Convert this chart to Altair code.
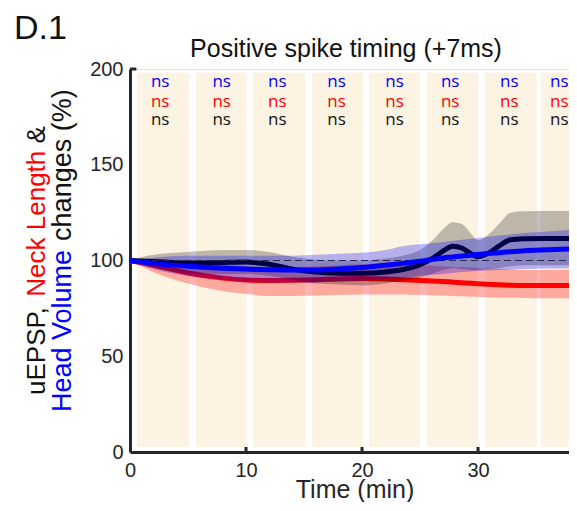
import altair as alt
import pandas as pd

# ---------------- data ----------------
t = [0, 2, 5, 8, 10, 12, 14, 16, 18, 20, 22, 23.5, 25, 26, 27, 27.8, 28.6, 29.4,
     30, 30.8, 31.8, 32.8, 34, 36, 38.5]

uepsp = [100, 99.5, 98.7, 99, 99.2, 98, 95.5, 94, 93.4, 93.3, 94, 95.3, 97.8, 100.8,
         105, 107.5, 106.5, 103.5, 102, 103.5, 107.5, 110.8, 111.3, 111.5, 111.5]
uepsp_hi = [100, 103, 104.5, 105.5, 105.5, 104.5, 102, 100.5, 100, 100, 101, 102.5,
            105.5, 110, 116.5, 120, 119, 114, 110.5, 113, 119, 125, 125.7, 125.8, 125.8]
uepsp_lo = [100, 96.5, 93.5, 93, 93, 92, 90, 88, 87.5, 87, 88, 89.5, 91, 93, 95, 96,
            95.5, 95, 95, 95.5, 96, 97, 97.5, 97.5, 97.5]

neck = [100, 97.5, 93.5, 90.8, 89.8, 89.5, 89.7, 90, 90.4, 90.6, 90.4, 90, 89.6, 89.3,
        89, 88.7, 88.4, 88.1, 87.9, 87.6, 87.3, 87.1, 87, 87, 87]
neck_hi = [100, 100.5, 99.5, 98, 97, 96.5, 96.5, 97, 97.5, 98, 98, 97.8, 97.5, 97.3,
           97, 96.8, 96.6, 96.3, 96, 95.8, 95.5, 95.3, 95.1, 95, 95]
neck_lo = [100, 94, 88, 84, 82.5, 81.5, 81.5, 81.7, 82, 82.3, 82.3, 82.2, 82, 81.9,
           81.7, 81.5, 81.3, 81.1, 81, 80.8, 80.6, 80.5, 80.4, 80.3, 80.3]

head = [100, 98.5, 97, 96, 95.5, 95.2, 95, 95, 95.5, 96.3, 97.5, 98.5, 99.6, 100.5,
        101.3, 101.8, 102.3, 102.8, 103.1, 103.6, 104.1, 104.6, 105.1, 105.6, 106.2]
head_hi = [100, 101.5, 102.5, 102.5, 102.5, 102.5, 102.5, 103, 103.5, 104, 105.5, 107.5,
           108.5, 109, 109.7, 110.2, 110.8, 111.3, 111.8, 112.3, 113, 113.6, 114.3, 115.2, 116.2]
head_lo = [100, 95.5, 92, 90, 89, 88.5, 88.5, 88.5, 89, 89.5, 90.5, 91, 92, 92.5, 93,
           93.5, 94, 94.3, 94.5, 94.8, 95, 95.2, 95.5, 95.8, 96]

band_start = [0.6, 5.7, 10.6, 15.7, 20.6, 25.6, 30.6, 35.4]
band_end = [5.1, 10.05, 15.1, 20.1, 25.0, 30.0, 35.05, 38.6]

ns_x = [2.6, 7.9, 12.7, 17.8, 22.8, 27.6, 32.7, 37.0]
ns_series = ["head", "neck", "uepsp"]
ns_level = [193.4, 182.9, 173.4]

x_ticks = [0, 10, 20, 30]
y_ticks = [0, 50, 100, 150, 200]

# ---------------- build tables ----------------
df = pd.DataFrame(dict(t=t, uepsp=uepsp, uepsp_hi=uepsp_hi, uepsp_lo=uepsp_lo,
                       neck=neck, neck_hi=neck_hi, neck_lo=neck_lo,
                       head=head, head_hi=head_hi, head_lo=head_lo))
bands = pd.DataFrame(dict(start=band_start, end=band_end))
ns_rows = []
for xv in ns_x:
    for s, lv in zip(ns_series, ns_level):
        ns_rows.append(dict(x=xv, y=lv, s=s, label="ns"))
ns_df = pd.DataFrame(ns_rows)

XMAX = 37.84
AX = "#262626"
FONT = "Liberation Sans"

xscale = alt.Scale(domain=[0, XMAX], nice=False, zero=False)
yscale = alt.Scale(domain=[0, 200], nice=False)

xaxis = alt.Axis(values=x_ticks, title=None, grid=False, ticks=False, labelFlush=False,
                 labelPadding=8)
yaxis = alt.Axis(values=y_ticks, title=None, grid=False, ticks=False, labelPadding=7)

band_layer = alt.Chart(bands).mark_rect(color="#fdf3e2").encode(
    x=alt.X("start:Q", scale=xscale, axis=xaxis),
    x2="end:Q",
    y=alt.Y(datum=198, scale=yscale, axis=yaxis),
    y2=alt.datum(2.6),
)

base = alt.Chart(df)
X = alt.X("t:Q", scale=xscale, axis=xaxis)


def area(lo, hi, color, op):
    return base.mark_area(color=color, opacity=op, interpolate="monotone").encode(
        x=X, y=alt.Y(f"{lo}:Q", scale=yscale, axis=yaxis), y2=f"{hi}:Q")


def line(col, color):
    return base.mark_line(color=color, strokeWidth=5, interpolate="monotone").encode(
        x=X, y=alt.Y(f"{col}:Q", scale=yscale, axis=yaxis))


red_area = area("neck_lo", "neck_hi", "#ff0000", 0.3)
red_line = line("neck", "#ff0000")
gray_area = area("uepsp_lo", "uepsp_hi", "#000000", 0.25)
black_line = line("uepsp", "#000000")
blue_area = area("head_lo", "head_hi", "#0000ff", 0.28)
blue_line = line("head", "#0000ff")

one = pd.DataFrame({"a": [0]})
dash = alt.Chart(one).mark_rule(strokeDash=[7, 4], strokeWidth=1.2, color="#2a2a4a").encode(
    x=alt.X(datum=0, scale=xscale, axis=xaxis), x2=alt.datum(38.6),
    y=alt.Y(datum=100, scale=yscale, axis=yaxis))

xt = alt.Chart(pd.DataFrame({"v": x_ticks[1:]})).mark_rule(color=AX, strokeWidth=3).encode(
    x=alt.X("v:Q", scale=xscale, axis=xaxis),
    y=alt.Y(datum=0, scale=yscale, axis=yaxis), y2=alt.datum(2.6))
yt = alt.Chart(one).mark_rule(color=AX, strokeWidth=3).encode(
    x=alt.X(datum=0, scale=xscale, axis=xaxis), x2=alt.datum(0.55),
    y=alt.Y(datum=200, scale=yscale, axis=yaxis))

ns_layer = alt.Chart(ns_df).mark_text(font="Open Sans", fontSize=17, baseline="middle",
                                      align="center").encode(
    x=alt.X("x:Q", scale=xscale, axis=xaxis),
    y=alt.Y("y:Q", scale=yscale, axis=yaxis),
    text="label:N",
    color=alt.Color("s:N", scale=alt.Scale(domain=ns_series,
                                           range=["#0000ff", "#ff0000", "#111111"]),
                    legend=None),
)


def label(txt, px, py, size, color="#111111", angle=None, align="left"):
    kw = dict(font=FONT, fontSize=size, color=color, align=align, baseline="alphabetic")
    if angle is not None:
        kw["angle"] = angle
    return alt.Chart(one).mark_text(**kw).encode(
        x=alt.value(px), y=alt.value(py), text=alt.value(txt))


texts = [
    label("D.1", -116, -30, 34),
    label("Positive spike timing (+7ms)", 216, -12, 25, align="center"),
    label("Time (min)", 225, 429, 25, color=AX, align="center"),
    label("uEPSP,", -85, 326, 26, color="#111111", angle=270),
    label("Neck Length", -85, 227.7, 26, color="#ff0000", angle=270),
    label("&", -85, 74.5, 26, color="#111111", angle=270),
    label("Head Volume", -59, 343, 27, color="#0000ff", angle=270),
    label("changes (%)", -59, 171.9, 27, color="#111111", angle=270),
]

chart = alt.layer(
    band_layer, red_area, red_line, gray_area, black_line, blue_area, dash, blue_line,
    xt, yt, ns_layer, *texts
).properties(
    width=439, height=383,
    autosize=alt.AutoSizeParams(type="none"),
    padding={"left": 122, "top": 61, "right": 0, "bottom": 50},
).configure_view(stroke=None).configure(background="white").configure_axis(
    domainColor=AX, domainWidth=3, labelColor=AX, labelFontSize=20, labelFont=FONT
)

chart.save("out.html", embed_options={"renderer": "svg", "actions": False})
